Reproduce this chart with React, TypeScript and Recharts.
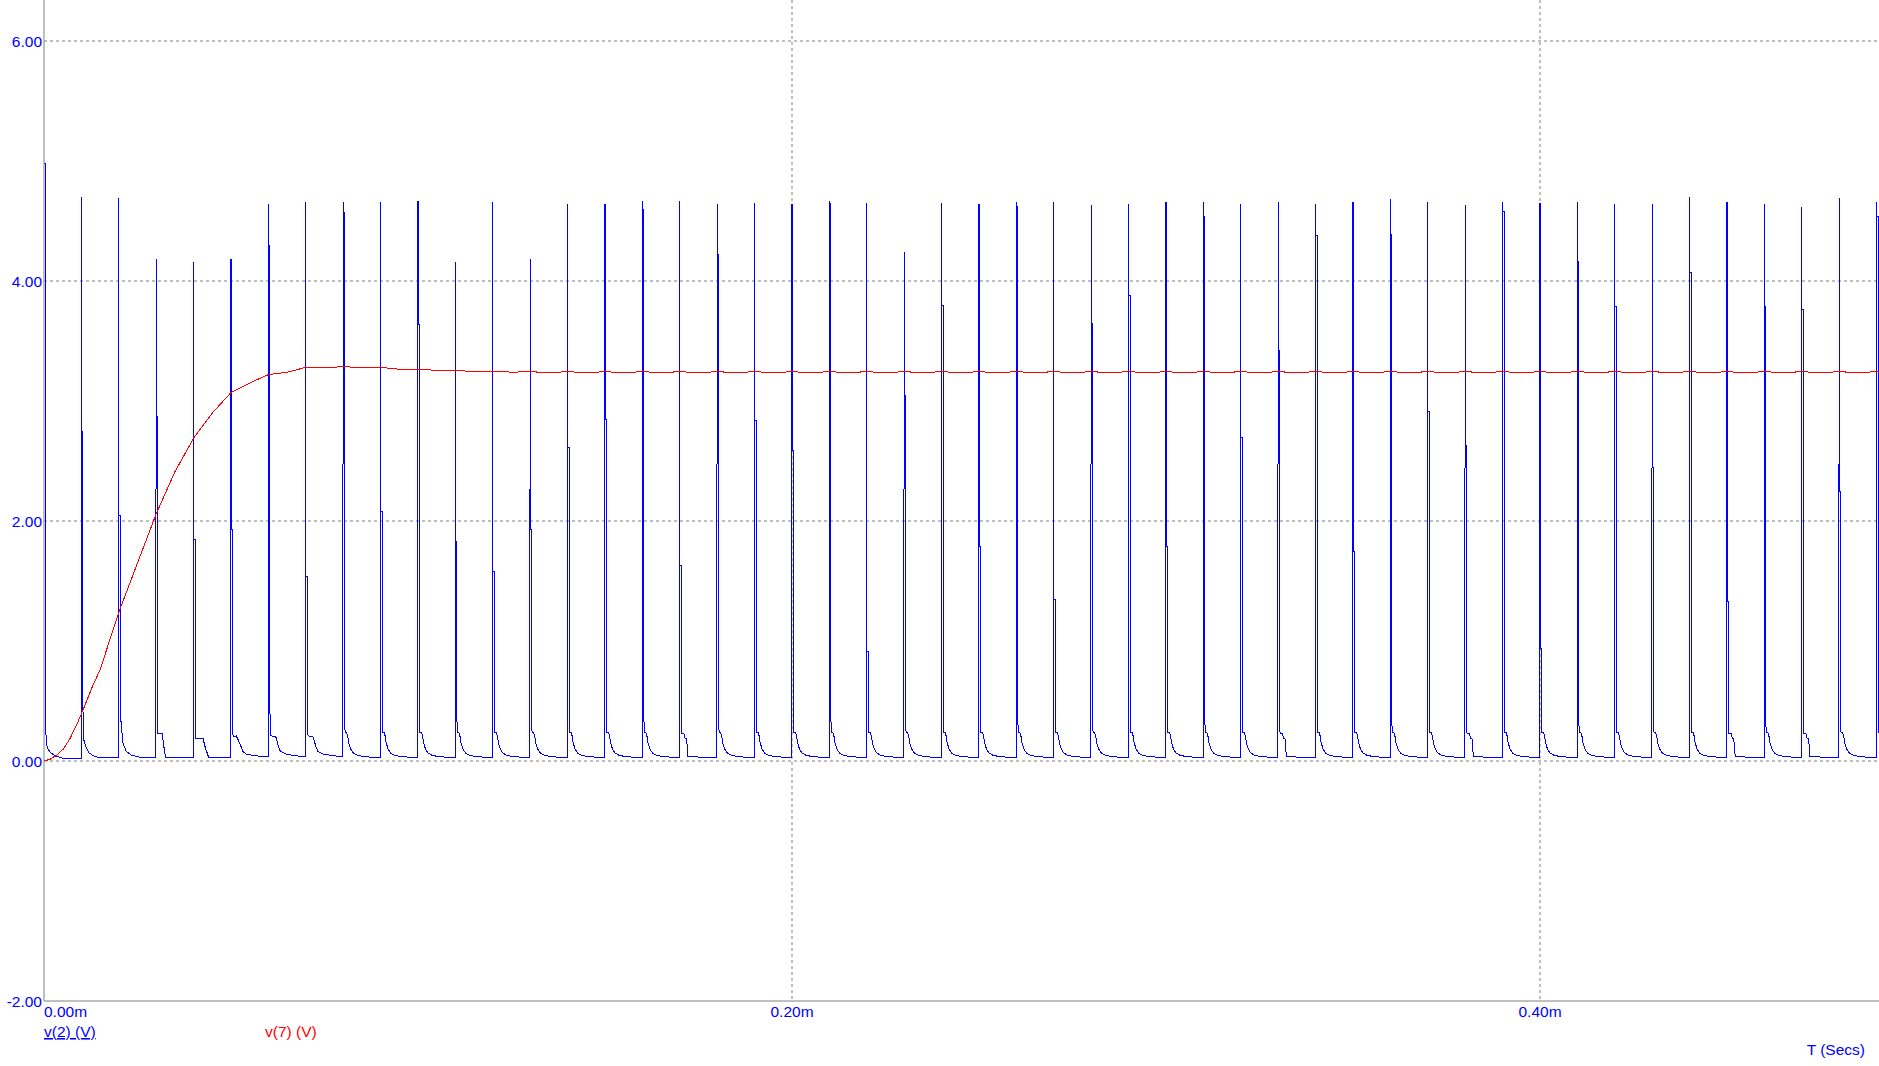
import { LineChart, Line, XAxis, YAxis, CartesianGrid } from "recharts"

// v(2): one switching pulse every 0.01 ms
const pulseTimes = [
  0, 0.01, 0.02, 0.03, 0.04, 0.05, 0.06, 0.07, 0.08, 0.09,
  0.1, 0.11, 0.12, 0.13, 0.14, 0.15, 0.16, 0.17, 0.18, 0.19,
  0.2, 0.21, 0.22, 0.23, 0.24, 0.25, 0.26, 0.27, 0.28, 0.29,
  0.3, 0.31, 0.32, 0.33, 0.34, 0.35, 0.36, 0.37, 0.38, 0.39,
  0.4, 0.41, 0.42, 0.43, 0.44, 0.45, 0.46, 0.47, 0.48, 0.49,
]
const pulsePeak = [
  4.98, 4.7, 4.69, 4.18, 4.16, 4.18, 4.64, 4.66, 4.66, 4.66,
  4.67, 4.16, 4.66, 4.18, 4.64, 4.64, 4.67, 4.67, 4.64, 4.65,
  4.64, 4.67, 4.65, 4.24, 4.65, 4.64, 4.66, 4.66, 4.63, 4.64,
  4.66, 4.66, 4.64, 4.66, 4.64, 4.66, 4.68, 4.66, 4.63, 4.66,
  4.65, 4.66, 4.64, 4.64, 4.7, 4.66, 4.64, 4.62, 4.69, 4.66,
]
// level where the falling edge starts (the thick part of each spike)
const pulseKnee = [
  4.98, 2.75, 2.05, 2.87, 1.85, 1.93, 4.3, 1.54, 4.57, 2.08,
  3.64, 1.83, 1.58, 1.93, 2.61, 2.85, 4.6, 1.63, 4.22, 2.84,
  2.59, 4.65, 0.91, 3.05, 3.8, 1.79, 4.62, 1.35, 3.65, 3.88,
  1.79, 4.54, 2.7, 3.42, 4.38, 1.75, 4.39, 2.91, 2.63, 4.58,
  0.94, 4.16, 3.79, 2.45, 4.07, 1.33, 3.79, 3.76, 2.25, 4.54,
]
// level right after the spike falls
const pulseDrop = [
  0.38, 0.48, 0.33, 0.23, 0.54, 0.25, 0.45, 0.45, 0.36, 0.35,
  0.34, 0.38, 0.32, 0.33, 0.54, 0.3, 0.39, 0.29, 0.35, 0.59,
  0.27, 0.39, 0.25, 0.31, 0.47, 0.29, 0.35, 0.64, 0.31, 0.45,
  0.26, 0.35, 0.55, 0.3, 0.44, 0.64, 0.33, 0.45, 0.27, 0.39,
  0.48, 0.33, 0.49, 0.27, 0.37, 0.64, 0.32, 0.45, 0.27, 0.36,
]
const pulseTail = [
  "t0", "t1", "t2", "t3", "t4", "t5", "t6", "t6", "A", "A",
  "A", "A", "A", "A", "A", "A", "A", "B", "A", "A",
  "A", "A", "A", "A", "A", "A", "A", "A", "A", "A",
  "A", "A", "A", "B", "A", "A", "A", "A", "B", "A",
  "A", "A", "A", "A", "A", "B", "A", "B", "A", "A",
]

// decay after each pulse: offset from pulse time (ms) and volts
const tailA_dt = [0.0005, 0.0009, 0.0012, 0.0015, 0.002, 0.0027, 0.0036, 0.0049, 0.0071, 0.0099]
const tailA_v = [0.24, 0.24, 0.21, 0.15, 0.1, 0.066, 0.05, 0.04, 0.033, 0.03]
const tailB_dt = [0.0005, 0.0011, 0.0014, 0.0018, 0.0022, 0.0099]
const tailB_v = [0.23, 0.23, 0.19, 0.19, 0.035, 0.03]
const tail0_dt = [0.0006, 0.001, 0.0019, 0.0032, 0.005, 0.0099]
const tail0_v = [0.15, 0.1, 0.066, 0.04, 0.023, 0.02]
const tail1_dt = [0.0006, 0.0012, 0.0021, 0.0034, 0.0048, 0.0099]
const tail1_v = [0.18, 0.12, 0.066, 0.04, 0.026, 0.025]
const tail2_dt = [0.0006, 0.0011, 0.002, 0.0033, 0.0055, 0.0099]
const tail2_v = [0.33, 0.15, 0.08, 0.05, 0.033, 0.03]
const tail3_dt = [0.0006, 0.0016, 0.002, 0.0025, 0.0099]
const tail3_v = [0.23, 0.23, 0.13, 0.033, 0.026]
const tail4_dt = [0.0006, 0.0025, 0.0031, 0.004, 0.0099]
const tail4_v = [0.19, 0.19, 0.115, 0.033, 0.03]
const tail5_dt = [0.0006, 0.0014, 0.0023, 0.0032, 0.0041, 0.0076, 0.0099]
const tail5_v = [0.2, 0.21, 0.15, 0.08, 0.056, 0.04, 0.035]
const tail6_dt = [0.0006, 0.002, 0.0026, 0.0032, 0.0048, 0.0084, 0.0099]
const tail6_v = [0.21, 0.2, 0.13, 0.08, 0.056, 0.04, 0.035]

// v(7): filtered output
const redT = [
  0, 0.0016, 0.0034, 0.0052, 0.007, 0.0087, 0.0101, 0.0128, 0.015, 0.02,
  0.025, 0.03, 0.035, 0.04, 0.045, 0.05, 0.055, 0.06, 0.065, 0.07,
  0.075, 0.08, 0.085, 0.09, 0.095, 0.1, 0.105, 0.11, 0.115, 0.12,
  0.125, 0.13, 0.135, 0.14, 0.145, 0.15, 0.155, 0.16, 0.165, 0.17,
  0.175, 0.18, 0.185, 0.19, 0.195, 0.2, 0.205, 0.21, 0.215, 0.22,
  0.225, 0.23, 0.235, 0.24, 0.245, 0.25, 0.255, 0.26, 0.265, 0.27,
  0.275, 0.28, 0.285, 0.29, 0.295, 0.3, 0.305, 0.31, 0.315, 0.32,
  0.325, 0.33, 0.335, 0.34, 0.345, 0.35, 0.355, 0.36, 0.365, 0.37,
  0.375, 0.38, 0.385, 0.39, 0.395, 0.4, 0.405, 0.41, 0.415, 0.42,
  0.425, 0.43, 0.435, 0.44, 0.445, 0.45, 0.455, 0.46, 0.465, 0.47,
  0.475, 0.48, 0.485, 0.49, 0.4906,
]
const redV = [
  0, 0.014, 0.05, 0.1, 0.19, 0.3, 0.4, 0.61, 0.76, 1.24,
  1.65, 2.06, 2.41, 2.69, 2.9, 3.07, 3.15, 3.22, 3.24, 3.28,
  3.28, 3.285, 3.28, 3.28, 3.265, 3.265, 3.255, 3.255, 3.245, 3.25,
  3.24, 3.245, 3.235, 3.245, 3.235, 3.245, 3.235, 3.245, 3.235, 3.245,
  3.235, 3.245, 3.235, 3.245, 3.235, 3.245, 3.235, 3.245, 3.235, 3.245,
  3.235, 3.245, 3.235, 3.245, 3.235, 3.245, 3.235, 3.245, 3.235, 3.245,
  3.235, 3.245, 3.235, 3.245, 3.235, 3.245, 3.235, 3.245, 3.235, 3.245,
  3.235, 3.245, 3.235, 3.245, 3.235, 3.245, 3.235, 3.245, 3.235, 3.245,
  3.235, 3.245, 3.235, 3.245, 3.235, 3.245, 3.235, 3.245, 3.235, 3.245,
  3.235, 3.245, 3.235, 3.245, 3.235, 3.245, 3.235, 3.245, 3.235, 3.245,
  3.235, 3.245, 3.235, 3.245, 3.24,
]

const timeTicks = [0, 0.2, 0.4]
const voltTicks = [-2, 0, 2, 4, 6]
const timeGrid = [0.2, 0.4]
const voltGrid = [0, 2, 4, 6]

const tails: Record<string, [number[], number[]]> = {
  A: [tailA_dt, tailA_v],
  B: [tailB_dt, tailB_v],
  t0: [tail0_dt, tail0_v],
  t1: [tail1_dt, tail1_v],
  t2: [tail2_dt, tail2_v],
  t3: [tail3_dt, tail3_v],
  t4: [tail4_dt, tail4_v],
  t5: [tail5_dt, tail5_v],
  t6: [tail6_dt, tail6_v],
}

const EDGE = 0.00038 // falling edge sits one pixel right of the rising edge

const blueData: { t: number; v: number }[] = []
pulseTimes.forEach((t, i) => {
  blueData.push({ t, v: pulsePeak[i] })
  blueData.push({ t, v: pulseKnee[i] })
  blueData.push({ t: t + EDGE, v: pulseKnee[i] })
  blueData.push({ t: t + EDGE, v: pulseDrop[i] })
  const [dts, vs] = tails[pulseTail[i]]
  dts.forEach((dt, j) => blueData.push({ t: t + dt, v: vs[j] }))
})

const redData = redT.map((t, i) => ({ t, v: redV[i] }))

const font = '"Liberation Sans", Arial, sans-serif'
const BLUE = "#0000ff"
const RED = "#ff0000"
const GREY = "#808080"

function TimeTick({ x, y, payload }: any) {
  return (
    <text x={x} y={y} dy={16} textAnchor={payload.value === 0 ? "start" : "middle"}
      fill={BLUE} fontFamily={font} fontSize={15.5}>
      {payload.value.toFixed(2)}m
    </text>
  )
}

function VoltTick({ x, y, payload }: any) {
  return (
    <text x={x} y={y} dy={5.5} textAnchor="end" fill={BLUE} fontFamily={font} fontSize={15.5}>
      {payload.value.toFixed(2)}
    </text>
  )
}

export default function App() {
  return (
    <div style={{ position: "absolute", left: 0, top: 0, width: 1879, height: 1066, background: "#fff" }}>
      <LineChart width={1879} height={1066} margin={{ top: 0, right: 0, bottom: 0, left: 0 }}>
        <CartesianGrid stroke={GREY} strokeDasharray="3 3"
          horizontalValues={voltGrid} verticalValues={timeGrid} />
        <XAxis
          type="number"
          dataKey="t"
          domain={[0, 0.49064]}
          ticks={timeTicks}
          interval={0}
          allowDataOverflow
          height={65}
          tickSize={0}
          tickMargin={0}
          tickLine={false}
          axisLine={{ stroke: GREY }}
          tick={<TimeTick />}
        />
        <YAxis
          type="number"
          domain={[-2, 6.3417]}
          ticks={voltTicks}
          interval={0}
          allowDataOverflow
          width={44}
          tickSize={0}
          tickMargin={2}
          tickLine={false}
          axisLine={{ stroke: GREY }}
          tick={<VoltTick />}
        />
        <Line data={blueData} dataKey="v" type="linear" dot={false} stroke={BLUE} strokeWidth={1}
          shapeRendering="crispEdges" isAnimationActive={false} />
        <Line data={redData} dataKey="v" type="linear" dot={false} stroke={RED} strokeWidth={1}
          shapeRendering="crispEdges" isAnimationActive={false} />
      </LineChart>
      <svg width={1879} height={1066} style={{ position: "absolute", left: 0, top: 0, pointerEvents: "none" }}>
        <text x={44} y={1037} fill={BLUE} fontFamily={font} fontSize={15.5} style={{ textDecoration: "underline" }}>
          v(2) (V)
        </text>
        <text x={265} y={1037} fill={RED} fontFamily={font} fontSize={15.5}>
          v(7) (V)
        </text>
        <text x={1865} y={1055} textAnchor="end" fill={BLUE} fontFamily={font} fontSize={15.5}>
          T (Secs)
        </text>
      </svg>
    </div>
  )
}
